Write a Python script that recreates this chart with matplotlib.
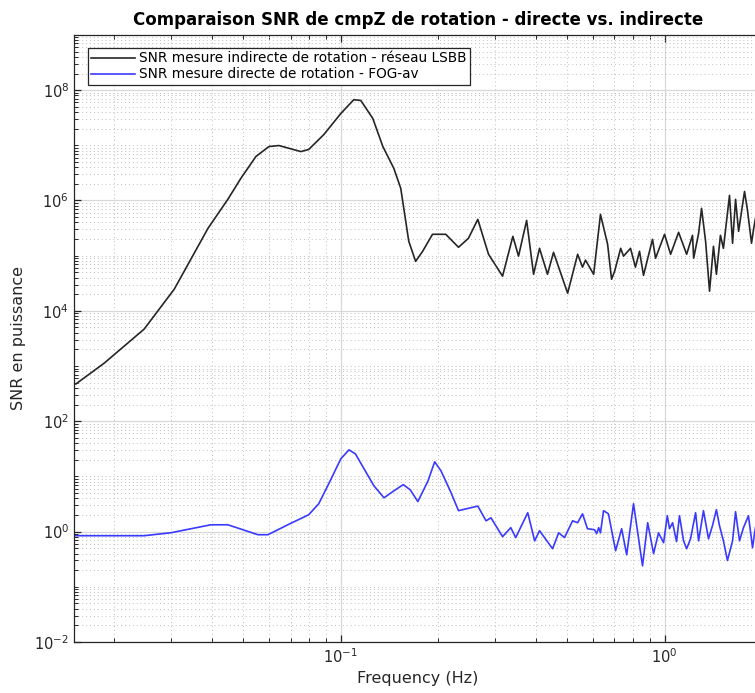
import numpy as np
import matplotlib.pyplot as plt
from matplotlib.ticker import LogLocator, FixedLocator, NullFormatter

# SNR curves (frequency in Hz, power SNR)
freq_indirect = [0.0152, 0.0186, 0.0247, 0.0306, 0.0389, 0.0448, 0.0491, 0.0547, 0.0600, 0.0644,
                 0.0753, 0.0796, 0.0887, 0.100, 0.1097, 0.1153, 0.1256, 0.1349, 0.1459,
                 0.1532, 0.1622, 0.1703, 0.179, 0.192, 0.211, 0.231, 0.248, 0.265, 0.286,
                 0.316, 0.340, 0.354, 0.375, 0.394, 0.411, 0.435, 0.454, 0.502, 0.539,
                 0.558, 0.570, 0.604, 0.634, 0.667, 0.686, 0.701, 0.732, 0.747, 0.785,
                 0.813, 0.837, 0.861, 0.918, 0.938, 1.000, 1.044, 1.105, 1.137, 1.170,
                 1.220, 1.230, 1.274, 1.301, 1.339, 1.377, 1.416, 1.446, 1.488, 1.520,
                 1.587, 1.622, 1.657, 1.693, 1.766, 1.804, 1.856, 1.883, 1.95, 2.0]
snr_indirect = [473, 1130, 4670, 2.47e4, 3.13e5, 1.05e6, 2.5e6, 6.27e6, 9.5e6, 9.9e6,
                7.7e6, 8.4e6, 1.57e7, 3.76e7, 6.7e7, 6.5e7, 3.06e7, 9.5e6, 3.8e6,
                1.66e6, 1.82e5, 7.9e4, 1.2e5, 2.44e5, 2.44e5, 1.42e5, 2.07e5, 4.55e5, 1.06e5,
                4.25e4, 2.24e5, 9.8e4, 4.36e5, 4.6e4, 1.36e5, 4.6e4, 1.15e5, 2.09e4, 1.06e5,
                6.2e4, 8.3e4, 4.6e4, 5.6e5, 1.61e5, 3.74e4, 5.2e4, 1.36e5, 9.8e4, 1.36e5,
                6.2e4, 1.2e5, 4.4e4, 1.98e5, 9.0e4, 2.44e5, 1.06e5, 2.65e5, 1.68e5, 1.06e5,
                2.34e5, 9.0e4, 2.54e5, 7.2e5, 1.82e5, 2.27e4, 1.48e5, 4.6e4, 2.34e5, 1.36e5,
                1.24e6, 1.68e5, 1.05e6, 2.76e5, 1.46e6, 6.6e5, 1.68e5, 3.0e5, 9.6e5, 6.0e5]

freq_direct = [0.0152, 0.0247, 0.0299, 0.0397, 0.0448, 0.0555, 0.0596, 0.0686, 0.0796,
               0.0855, 0.0931, 0.100, 0.106, 0.111, 0.1265, 0.136, 0.146, 0.156, 0.164,
               0.173, 0.186, 0.195, 0.204, 0.219, 0.231, 0.265, 0.281, 0.291, 0.316,
               0.335, 0.347, 0.378, 0.397, 0.411, 0.451, 0.471, 0.491, 0.520, 0.539,
               0.558, 0.578, 0.608, 0.617, 0.626, 0.634, 0.648, 0.671, 0.706, 0.737,
               0.764, 0.802, 0.855, 0.887, 0.925, 0.958, 0.993, 1.02, 1.036, 1.059,
               1.089, 1.112, 1.145, 1.170, 1.203, 1.247, 1.274, 1.319, 1.367, 1.406,
               1.446, 1.478, 1.520, 1.564, 1.622, 1.657, 1.704, 1.753, 1.816, 1.870,
               1.897, 1.95, 2.0]
snr_direct = [0.843, 0.843, 0.955, 1.33, 1.33, 0.879, 0.879, 1.33, 2.02,
              3.2, 8.7, 20.8, 30.3, 25.6, 6.8, 4.1, 5.5, 7.1, 5.7,
              3.5, 8.3, 18.4, 12.6, 5.1, 2.4, 2.9, 1.57, 1.78, 0.81,
              1.18, 0.78, 2.2, 0.68, 1.04, 0.49, 0.95, 0.78, 1.57, 1.45,
              2.1, 1.13, 1.08, 0.92, 1.18, 0.95, 2.4, 2.1, 0.45, 1.13,
              0.38, 3.2, 0.24, 1.45, 0.40, 0.95, 0.63, 1.94, 1.13, 1.45,
              0.66, 1.94, 0.68, 0.49, 0.74, 2.2, 0.68, 2.4, 0.74, 1.28,
              2.5, 1.28, 0.68, 0.30, 0.68, 2.3, 0.68, 1.18, 1.94, 0.51,
              0.95, 2.4, 1.2]

label_indirect = 'SNR mesure indirecte de rotation - réseau LSBB'
label_direct = 'SNR mesure directe de rotation - FOG-av'

txt = '#262626'
fig = plt.figure(figsize=(7.55, 6.93), dpi=100)
ax = fig.add_axes([0.098, 0.0736, 0.9113, 0.876])

ax.loglog(freq_indirect, snr_indirect, color='#262626', lw=1.2, label=label_indirect)
ax.loglog(freq_direct, snr_direct, color='#3a3aff', lw=1.2, label=label_direct)

ax.set_xlim(0.015, 2)
ax.set_ylim(1e-2, 1e9)
ax.yaxis.set_major_locator(FixedLocator([1e-2, 1e0, 1e2, 1e4, 1e6, 1e8]))
ax.yaxis.set_minor_locator(LogLocator(base=10, subs=np.arange(1, 10), numticks=100))
ax.yaxis.set_minor_formatter(NullFormatter())
ax.xaxis.set_major_locator(FixedLocator([1e-1, 1e0]))
ax.xaxis.set_minor_locator(LogLocator(base=10, subs=np.arange(1, 10), numticks=100))
ax.xaxis.set_minor_formatter(NullFormatter())

ax.grid(which='major', color='#d8d8d8', lw=0.9, ls='-')
ax.grid(which='minor', color='#bdbdbd', lw=0.7, ls=(0, (1, 3)))
ax.set_axisbelow(True)

ax.tick_params(which='both', direction='in', top=True, right=True, colors=txt,
               labelsize=10.5)
ax.tick_params(which='major', length=5, width=0.9)
ax.tick_params(which='minor', length=3, width=0.7)
for s in ax.spines.values():
    s.set_color(txt)
    s.set_linewidth(0.9)

ax.set_title('Comparaison SNR de cmpZ de rotation - directe vs. indirecte',
             fontsize=12, fontweight='bold', color='black', pad=7)
ax.set_xlabel('Frequency (Hz)', fontsize=11.5, color=txt, labelpad=4)
ax.set_ylabel('SNR en puissance', fontsize=11.5, color=txt, labelpad=6)

leg = ax.legend(loc='upper left', bbox_to_anchor=(88 / 755, 1 - 48 / 693),
                bbox_transform=fig.transFigure, borderaxespad=0, fontsize=9.8,
                fancybox=False, framealpha=1, edgecolor=txt, handlelength=3.2,
                borderpad=0.25, labelspacing=0.15, handletextpad=0.3)
leg.get_frame().set_linewidth(0.9)

fig.savefig('out.png', dpi=100)
